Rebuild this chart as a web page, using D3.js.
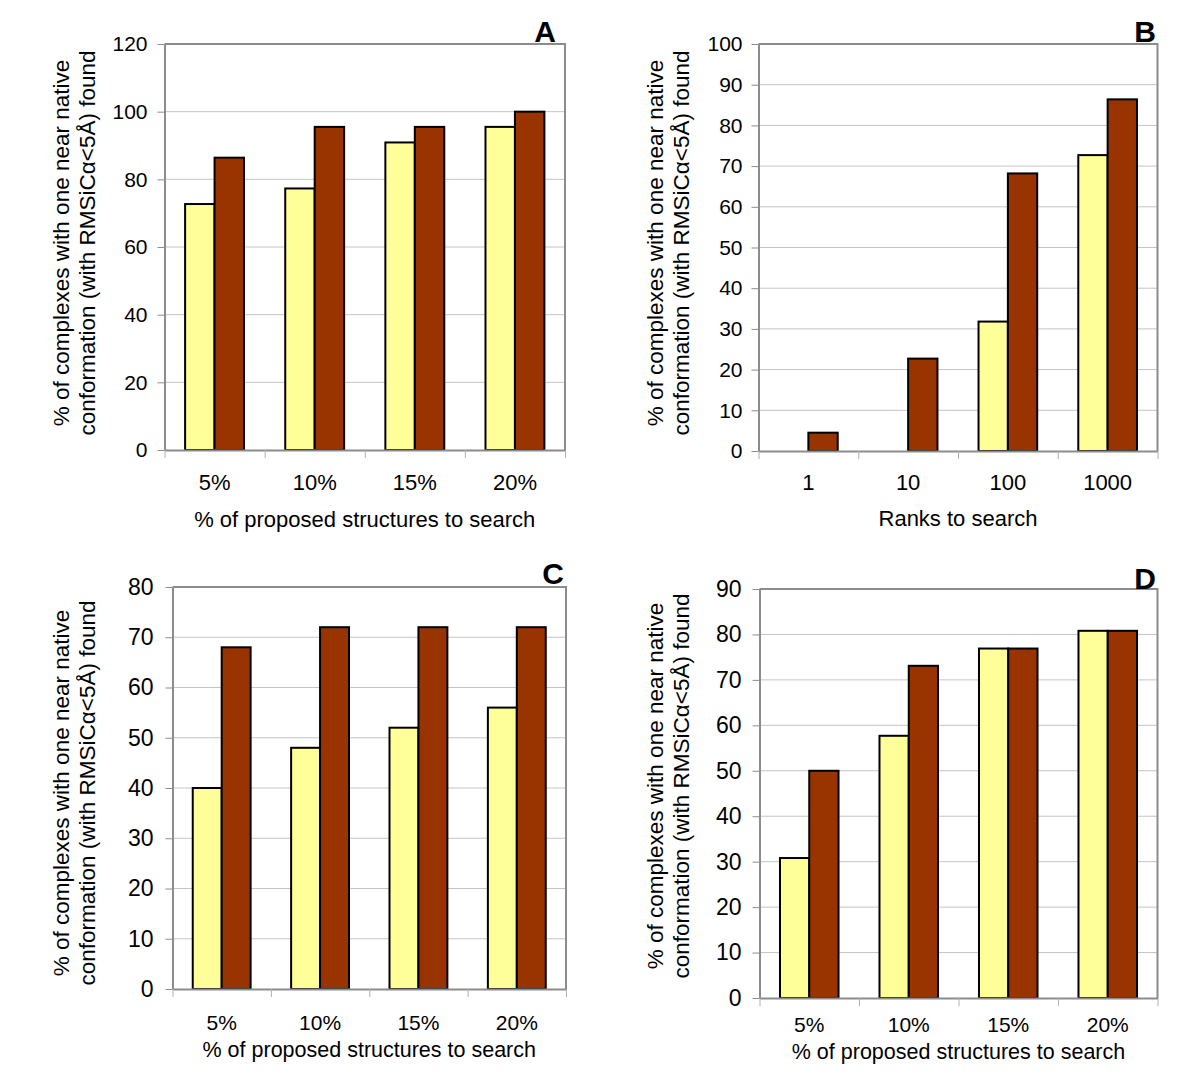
<!DOCTYPE html>
<html>
<head>
<meta charset="utf-8">
<script src="https://cdn.jsdelivr.net/npm/d3@7"></script>
<style>
  html, body { margin: 0; padding: 0; background: #fff; }
  svg { display: block; }
  text { font-family: "Liberation Sans", Arial, sans-serif; fill: #000; }
</style>
</head>
<body>
<svg id="chart" width="1200" height="1091"></svg>
<script>
// ---------- DATA ----------
const pctCategories = ["5%", "10%", "15%", "20%"];
const rankCategories = ["1", "10", "100", "1000"];

const aYellow = [72.7, 77.3, 90.9, 95.5];
const aBrown  = [86.4, 95.5, 95.5, 100];

const bYellow = [0, 0, 31.8, 72.7];
const bBrown  = [4.5, 22.7, 68.2, 86.4];

const cYellow = [40, 48, 52, 56];
const cBrown  = [68, 72, 72, 72];

const dYellow = [30.8, 57.7, 76.9, 80.8];
const dBrown  = [50, 73.1, 76.9, 80.8];

const aTicks = [0, 20, 40, 60, 80, 100, 120];
const bTicks = [0, 10, 20, 30, 40, 50, 60, 70, 80, 90, 100];
const cTicks = [0, 10, 20, 30, 40, 50, 60, 70, 80];
const dTicks = [0, 10, 20, 30, 40, 50, 60, 70, 80, 90];

const yTitleLines = ["% of complexes with one near native", "conformation (with RMSiC\u03b1<5\u00c5) found"];
const xTitlePct = "% of proposed structures to search";
const xTitleRank = "Ranks to search";
const seriesNames = ["yellow", "brown"];

// ---------- STYLE / LAYOUT ----------
const colors = { yellow: "#FFFF99", brown: "#993300" };
const svg = d3.select("#chart");

const panels = [
  { letter: "A", cats: pctCategories, vals: [aYellow, aBrown], ticks: aTicks,
    x0: 164.5, x1: 565, y0: 44, y1: 450, tickFont: 21, tickPad: 10, catFont: 22, catY: 490,
    xTitle: xTitlePct, xTitleY: 527, xTitleFont: 22, letterX: 556, letterY: 42,
    yT1: 69, yT2: 95, yTc: 243 },
  { letter: "B", cats: rankCategories, vals: [bYellow, bBrown], ticks: bTicks,
    x0: 758.5, x1: 1157.5, y0: 44, y1: 451, tickFont: 21, tickPad: 9, catFont: 22, catY: 490,
    xTitle: xTitleRank, xTitleY: 526, xTitleFont: 22, letterX: 1156, letterY: 42,
    yT1: 663, yT2: 689, yTc: 243 },
  { letter: "C", cats: pctCategories, vals: [cYellow, cBrown], ticks: cTicks,
    x0: 172.5, x1: 566, y0: 587, y1: 989, tickFont: 23, tickPad: 12, catFont: 21, catY: 1030,
    xTitle: xTitlePct, xTitleY: 1057, xTitleFont: 21.5, letterX: 564, letterY: 584,
    yT1: 69, yT2: 95, yTc: 793 },
  { letter: "D", cats: pctCategories, vals: [dYellow, dBrown], ticks: dTicks,
    x0: 759.5, x1: 1157.5, y0: 589, y1: 998, tickFont: 23, tickPad: 11, catFont: 21, catY: 1032,
    xTitle: xTitlePct, xTitleY: 1059, xTitleFont: 21.5, letterX: 1156, letterY: 589,
    yT1: 663, yT2: 689, yTc: 786 }
];

panels.forEach(p => {
  const g = svg.append("g");
  const ymax = p.ticks[p.ticks.length - 1];
  const y = d3.scaleLinear().domain([0, ymax]).range([p.y1, p.y0]);
  const x = d3.scaleBand().domain(p.cats).range([p.x0, p.x1]).paddingInner(0).paddingOuter(0);
  const sub = d3.scaleBand().domain(seriesNames).range([0, x.bandwidth()]).paddingOuter(0.7).paddingInner(0);

  // gridlines
  g.append("g").selectAll("line").data(p.ticks.filter(t => t > 0 && t < ymax)).join("line")
    .attr("x1", p.x0).attr("x2", p.x1)
    .attr("y1", d => y(d)).attr("y2", d => y(d))
    .attr("stroke", "#c4c4c4").attr("stroke-width", 1);

  // plot border top and right
  g.append("path")
    .attr("d", `M${p.x0},${p.y0}H${p.x1}V${p.y1}`)
    .attr("fill", "none").attr("stroke", "#8c8c8c").attr("stroke-width", 2);

  // bars
  const data = [];
  p.cats.forEach((c, i) => seriesNames.forEach((s, j) => data.push({ c, s, v: p.vals[j][i] })));
  g.append("g").selectAll("rect").data(data.filter(d => d.v > 0)).join("rect")
    .attr("x", d => x(d.c) + sub(d.s))
    .attr("width", sub.bandwidth())
    .attr("y", d => y(d.v))
    .attr("height", d => y(0) - y(d.v))
    .attr("fill", d => colors[d.s])
    .attr("stroke", "#000").attr("stroke-width", 2);

  // y axis
  const yAxis = d3.axisLeft(y).tickValues(p.ticks).tickSize(7).tickPadding(p.tickPad).tickSizeOuter(0);
  const ya = g.append("g").attr("transform", `translate(${p.x0},0)`).call(yAxis);
  ya.select(".domain").attr("stroke", "#8c8c8c").attr("stroke-width", 2);
  ya.selectAll(".tick line").attr("stroke", "#8c8c8c").attr("stroke-width", 1);
  ya.selectAll(".tick text").attr("font-size", p.tickFont).attr("font-family", "Liberation Sans, Arial, sans-serif").attr("fill", "#000");

  // x axis (ticks at category boundaries)
  const xb = d3.scaleLinear().domain([0, p.cats.length]).range([p.x0, p.x1]);
  const xAxis = d3.axisBottom(xb).ticks(p.cats.length).tickSize(8).tickFormat("").tickSizeOuter(0);
  const xa = g.append("g").attr("transform", `translate(0,${p.y1})`).call(xAxis);
  xa.select(".domain").attr("stroke", "#8c8c8c").attr("stroke-width", 2);
  xa.selectAll(".tick line").attr("stroke", "#b0b0b0").attr("stroke-width", 1);

  // category labels
  g.append("g").selectAll("text").data(p.cats).join("text")
    .attr("x", d => x(d) + x.bandwidth() / 2)
    .attr("y", p.catY)
    .attr("text-anchor", "middle")
    .attr("font-size", p.catFont)
    .text(d => d);

  // x title
  g.append("text")
    .attr("x", (p.x0 + p.x1) / 2)
    .attr("y", p.xTitleY)
    .attr("text-anchor", "middle")
    .attr("font-size", p.xTitleFont)
    .text(p.xTitle);

  // y title (two lines, rotated)
  [p.yT1, p.yT2].forEach((xx, i) => {
    g.append("text")
      .attr("transform", `translate(${xx},${p.yTc}) rotate(-90)`)
      .attr("text-anchor", "middle")
      .attr("font-size", 22.5)
      .text(yTitleLines[i]);
  });

  // panel letter
  g.append("text")
    .attr("x", p.letterX).attr("y", p.letterY)
    .attr("text-anchor", "end")
    .attr("font-size", 30).attr("font-weight", "bold")
    .text(p.letter);
});
</script>
</body>
</html>
